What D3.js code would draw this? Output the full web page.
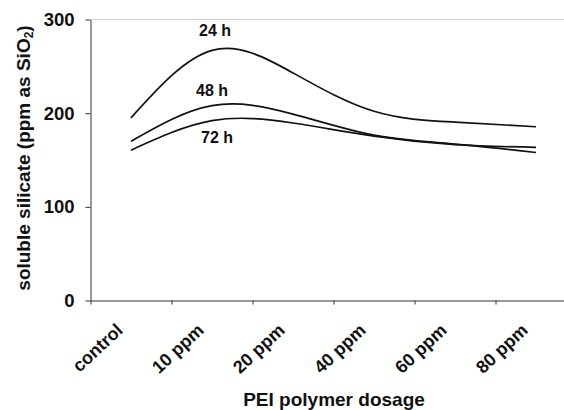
<!DOCTYPE html>
<html><head><meta charset="utf-8">
<script src="https://cdn.jsdelivr.net/npm/d3@7"></script>
<style>
html,body{margin:0;padding:0;background:#fff;}
svg{display:block;font-family:"Liberation Sans",Arial,sans-serif;font-weight:bold;}
</style></head>
<body>
<svg id="chart" width="564" height="410"></svg>
<script>
const categories = ["control", "10 ppm", "20 ppm", "40 ppm", "60 ppm", "80 ppm"];
const seriesNames = ["24 h", "48 h", "72 h"];
const values24h = [195, 267, 243, 202, 190.5, 185.5];
const values48h = [170, 208, 199, 176.5, 167, 158];
const values72h = [160.5, 192, 189.5, 175.5, 166.5, 163.5];
const yTicks = [0, 100, 200, 300];
const labelValues = [{name: "24 h", cat: "10 ppm", v: 282}, {name: "48 h", cat: "10 ppm", v: 218.5}, {name: "72 h", cat: "10 ppm", v: 168.5}];

const svg = d3.select("#chart");
const x0 = 90.5, x1 = 576.5, yTop = 19.5, yBot = 300.5;

const x = d3.scaleBand().domain(categories).range([x0, x1]).padding(0);
const y = d3.scaleLinear().domain([0, 300]).range([yBot, yTop]);
const xb = d3.scaleLinear().domain([0, categories.length]).range([x0, x1]);

// top border
svg.append("line").attr("x1", x0).attr("x2", 564).attr("y1", yTop).attr("y2", yTop)
  .attr("stroke", "#cfcfcf").attr("stroke-width", 1);

// y axis
const yAxis = svg.append("g").attr("transform", `translate(${x0},0)`)
  .call(d3.axisLeft(y).tickValues(yTicks).tickSize(5).tickPadding(11).tickSizeOuter(0));
yAxis.select(".domain").attr("stroke", "#333");
yAxis.selectAll(".tick line").attr("stroke", "#333");
yAxis.selectAll("text").attr("font-size", 18.5).attr("font-weight", "bold").attr("fill", "#111")
  .attr("font-family", "Liberation Sans, Arial, sans-serif");

// x axis: tick marks at band boundaries
const xTickAxis = svg.append("g").attr("transform", `translate(0,${yBot})`)
  .call(d3.axisBottom(xb).tickValues(d3.range(0, categories.length + 1)).tickFormat("").tickSize(4).tickSizeOuter(0));
xTickAxis.select(".domain").attr("stroke", "#333");
xTickAxis.selectAll(".tick line").attr("stroke", "#333");

// x labels
const xLabAxis = svg.append("g").attr("transform", `translate(0,${yBot})`)
  .call(d3.axisBottom(x).tickSize(0).tickPadding(0));
xLabAxis.select(".domain").remove();
xLabAxis.selectAll("text")
  .attr("font-size", 18).attr("font-weight", "bold").attr("fill", "#111")
  .attr("font-family", "Liberation Sans, Arial, sans-serif")
  .attr("text-anchor", "end").attr("dy", null).attr("y", null)
  .attr("transform", "translate(-7,31) rotate(-43)");

// lines
const line = d3.line()
  .x((d, i) => x(categories[i]) + x.bandwidth() / 2)
  .y(d => y(d))
  .curve(d3.curveNatural);
[values24h, values48h, values72h].forEach(vals => {
  svg.append("path").datum(vals).attr("d", line)
    .attr("fill", "none").attr("stroke", "#111").attr("stroke-width", 1.7);
});

// series labels
const labelDx = [3, 0, 5];
labelValues.forEach((l, i) => {
  svg.append("text").attr("x", x(l.cat) + x.bandwidth() / 2 + labelDx[i]).attr("y", y(l.v))
    .attr("text-anchor", "middle").attr("font-size", 16).attr("fill", "#111").text(l.name);
});

// axis titles
const yt = svg.append("text").attr("transform", "translate(30,158) rotate(-90)")
  .attr("text-anchor", "middle").attr("font-size", 19).attr("fill", "#111");
yt.append("tspan").text("soluble silicate (ppm as SiO");
yt.append("tspan").attr("font-size", 12).attr("dy", 3).text("2");
yt.append("tspan").attr("dy", -3).text(")");

svg.append("text").attr("x", 334).attr("y", 406).attr("text-anchor", "middle")
  .attr("font-size", 19).attr("fill", "#111").text("PEI polymer dosage");
</script>
</body></html>
